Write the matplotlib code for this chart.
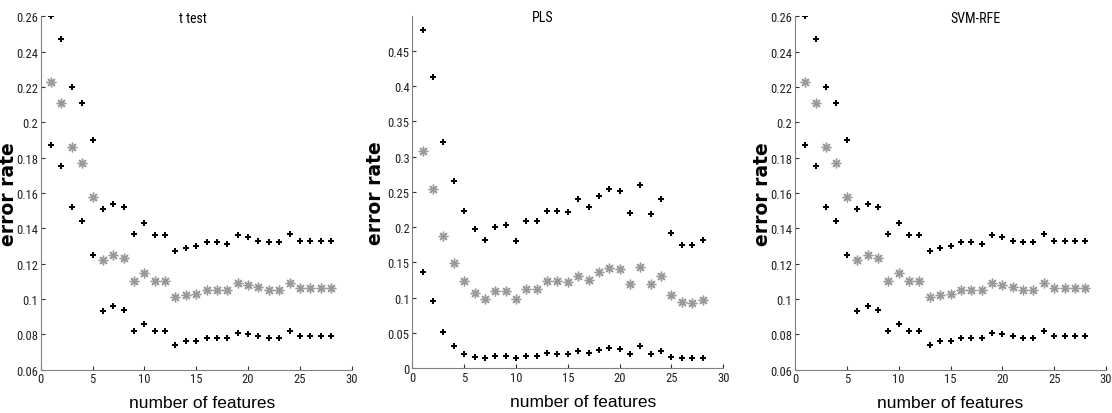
import matplotlib as mpl
mpl.use('Agg')
import matplotlib.pyplot as plt
from matplotlib import font_manager
from matplotlib.ticker import FormatStrFormatter

n_features = list(range(1, 29))

# t test (the SVM-RFE panel shows the same values)
ttest_upper = [0.260, 0.247, 0.220, 0.211, 0.190, 0.151, 0.154, 0.152, 0.137, 0.143,
               0.136, 0.136, 0.127, 0.129, 0.130, 0.132, 0.132, 0.131, 0.136, 0.135,
               0.133, 0.132, 0.132, 0.137, 0.133, 0.133, 0.133, 0.133]
ttest_mean = [0.223, 0.211, 0.186, 0.177, 0.158, 0.122, 0.125, 0.123, 0.110, 0.115,
              0.110, 0.110, 0.101, 0.102, 0.103, 0.105, 0.105, 0.105, 0.109, 0.108,
              0.107, 0.105, 0.105, 0.109, 0.106, 0.106, 0.106, 0.106]
ttest_lower = [0.187, 0.175, 0.152, 0.144, 0.125, 0.093, 0.096, 0.094, 0.082, 0.086,
               0.082, 0.082, 0.074, 0.076, 0.076, 0.078, 0.078, 0.078, 0.081, 0.080,
               0.079, 0.078, 0.078, 0.082, 0.079, 0.079, 0.079, 0.079]

pls_upper = [0.479, 0.412, 0.321, 0.266, 0.223, 0.197, 0.182, 0.200, 0.203, 0.181,
             0.208, 0.208, 0.223, 0.223, 0.222, 0.240, 0.229, 0.244, 0.254, 0.251,
             0.220, 0.259, 0.219, 0.240, 0.192, 0.175, 0.174, 0.182]
pls_mean = [0.308, 0.254, 0.187, 0.149, 0.123, 0.106, 0.098, 0.109, 0.110, 0.098,
            0.112, 0.112, 0.123, 0.123, 0.122, 0.131, 0.125, 0.137, 0.142, 0.140,
            0.119, 0.144, 0.119, 0.131, 0.104, 0.094, 0.093, 0.097]
pls_lower = [0.136, 0.096, 0.052, 0.032, 0.020, 0.016, 0.014, 0.017, 0.017, 0.014,
             0.017, 0.017, 0.021, 0.020, 0.020, 0.024, 0.021, 0.026, 0.029, 0.028,
             0.020, 0.031, 0.020, 0.024, 0.016, 0.014, 0.014, 0.014]

svm_upper = ttest_upper
svm_mean = ttest_mean
svm_lower = ttest_lower

# look for a narrow sans font for the tick labels, else plain Liberation Sans
narrow = None
for f in font_manager.fontManager.ttflist:
    fn = f.fname.lower()
    if ('narrow' in fn or 'condensed' in fn) and 'bold' not in fn and 'italic' not in fn \
            and 'oblique' not in fn and 'light' not in fn:
        narrow = f.fname
        if 'liberation' in fn:
            break
if narrow:
    tick_fp = font_manager.FontProperties(fname=narrow, size=9)
    title_fp = font_manager.FontProperties(fname=narrow, size=10)
else:
    tick_fp = font_manager.FontProperties(family='Liberation Sans', size=8)
    title_fp = font_manager.FontProperties(family='Liberation Sans', size=8.5)

grey = '#808080'

fig = plt.figure(figsize=(11.12, 4.14), dpi=100)
W, H = 1112.0, 414.0


def panel(left_px, top_px, bottom_px, title, title_x, xlab_x, ylab_x,
          upper, mean, lower, ylim, yticks):
    ax = fig.add_axes([left_px / W, 1 - bottom_px / H, 311 / W, (bottom_px - top_px) / H])
    ax.plot(n_features, upper, ls='none', marker='P', ms=4, mew=0, color='black')
    ax.plot(n_features, lower, ls='none', marker='P', ms=4, mew=0, color='black')
    ax.plot(n_features, mean, ls='none', marker=(8, 2, 0), ms=7, mew=1.0, color='#9a9a9a')
    ax.set_xlim(0, 30)
    ax.set_ylim(*ylim)
    ax.set_xticks(range(0, 31, 5))
    ax.set_yticks(yticks)
    ax.yaxis.set_major_formatter(FormatStrFormatter('%g'))
    ax.spines['right'].set_color('none')
    ax.spines['top'].set_color('none')
    ax.spines['left'].set_color(grey)
    ax.spines['bottom'].set_color(grey)
    ax.tick_params(direction='in', length=3, color='#333333', labelcolor='#222222', pad=2)
    for lab in ax.get_xticklabels() + ax.get_yticklabels():
        lab.set_fontproperties(tick_fp)
    ax.text(title_x, 0.995, title, transform=ax.transAxes, ha='center', va='center',
            fontproperties=title_fp)
    ax.set_xlabel('number of features', fontsize=12.5, family='Liberation Sans')
    ax.xaxis.set_label_coords(xlab_x, -0.072)
    ax.set_ylabel('error rate', fontsize=13.5, fontweight='bold', family='DejaVu Sans')
    ax.yaxis.set_label_coords(ylab_x, 0.5)
    return ax


t_ticks = [0.06, 0.08, 0.10, 0.12, 0.14, 0.16, 0.18, 0.20, 0.22, 0.24, 0.26]
panel(40.7, 17.3, 370.7, 't test', 0.49, 0.52, -0.072,
      ttest_upper, ttest_mean, ttest_lower, (0.06, 0.26), t_ticks)
panel(412.3, 16.7, 369.3, 'PLS', 0.42, 0.55, -0.088,
      pls_upper, pls_mean, pls_lower, (0, 0.4995),
      [0, 0.05, 0.1, 0.15, 0.2, 0.25, 0.3, 0.35, 0.4, 0.45])
panel(795, 17.3, 370.7, 'SVM-RFE', 0.579, 0.5, -0.073,
      svm_upper, svm_mean, svm_lower, (0.06, 0.26), t_ticks)

plt.savefig('out.png', dpi=100)
plt.close()
